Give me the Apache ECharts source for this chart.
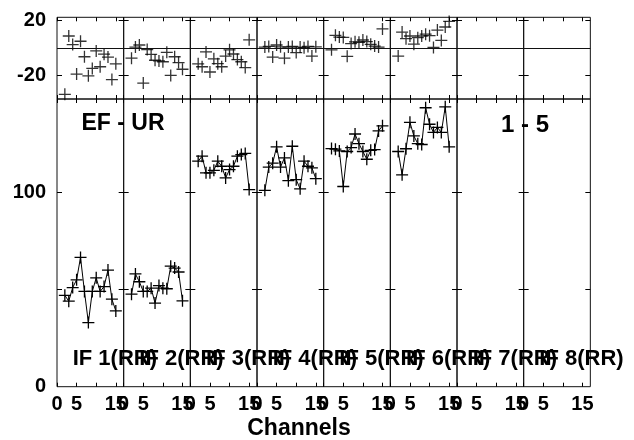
<!DOCTYPE html>
<html><head><meta charset="utf-8">
<script src="https://cdn.jsdelivr.net/npm/echarts@6/dist/echarts.min.js"></script>
<style>html,body{margin:0;padding:0;background:#fff}#c{width:634px;height:440px}</style>
</head><body><div id="c"></div>
<script>
// ---- data ----
const channels = [2, 3, 4, 5, 6, 7, 8, 9, 10, 11, 12, 13, 14, 15];
const ifLabels = ['IF 1(RR)', 'IF 2(RR)', 'IF 3(RR)', 'IF 4(RR)', 'IF 5(RR)', 'IF 6(RR)', 'IF 7(RR)', 'IF 8(RR)'];
const xTickValues = [0, 5, 10, 15];
const xLabelValues = [0, 5, 15];
const resTickValues = [-20, 20];
const resLabelValues = [-20, 20];
const ampTickValues = [50, 100];
const ampLabelValues = [0, 100];

const ampIF1 = [47, 44, 51, 55, 66.5, 49, 33, 49, 56, 49, 51.5, 60, 45, 39];
const ampIF2 = [47.6, 58, 54, 49, 49, 50.7, 43, 52, 50.7, 50.4, 62, 61, 59, 44.2];
const ampIF3 = [116, 118.6, 110, 110, 111.3, 116, 113.4, 107.4, 111.7, 113.4, 118.6, 119.4, 120, 101.4];
const ampIF4 = [101, 113, 115, 123.4, 113, 117.7, 106, 123.7, 106.5, 101.8, 116, 113.4, 112.6, 107];
const ampIF5 = [122.5, 122.2, 121.3, 103, 121, 123, 130, 125, 121, 117, 121.6, 122, 131.6, 134.2];
const ampIF6 = [121, 109, 122.4, 136, 129, 125, 124.6, 143.5, 135, 130.8, 133.4, 130.8, 144, 123.4];
const ampIF7 = [];
const ampIF8 = [];

const resIF1 = [-33.6, 8.5, 2.3, -19, 4.7, -6.5, -20.3, -14.9, -2.3, -13.7, -4.6, -6.7, -23, -11.6];
const resIF2 = [-7.5, 0.5, 2, -25.5, -1.3, -4.8, -9, -9.5, -10.1, -3.3, -20, -6.5, -10.7, -15.5];
const resIF3 = [-11.6, -13.7, -3, -17.5, -8, -11.5, -13.7, -6, -1.5, -4.5, -8.5, -10.1, -14.3, 5.7];
const resIF4 = [0.5, 1, -6.7, 2, 0.7, -7.5, 0.5, 1, -3.5, 0.5, 0, 1, -6, 0.7];
const resIF5 = [-1.5, 9, 7.7, 7.5, -6.2, 3, 4.3, 4, 5.6, 4.5, 2.5, 1.2, 0.5, 13.6];
const resIF6 = [-6, 11.3, 6.6, 8.5, 2.6, 7.3, 8.5, 9.8, 8.7, 0.2, 12.8, 5.3, 15, 19];
const resIF7 = [];
const resIF8 = [];

const ampAll = [ampIF1, ampIF2, ampIF3, ampIF4, ampIF5, ampIF6, ampIF7, ampIF8];
const resAll = [resIF1, resIF2, resIF3, resIF4, resIF5, resIF6, resIF7, resIF8];

// ---- layout ----
const FAM = '"Liberation Sans", Arial, Helvetica, sans-serif';
const L0 = 57, PW = 66.667, TOP0 = 17.3, MID = 99, BOT = 386.7;
const PLUS = 'path://M0,50L100,50M50,0L50,100';

const grids = [], xAxes = [], yAxes = [], series = [];
const tickStyle = {color: '#000', width: 1};
const lblStyle = {fontSize: 20, fontWeight: 'bold', color: '#000', fontFamily: FAM};

for (let row = 0; row < 2; row++) {
  for (let i = 0; i < 8; i++) {
    const g = grids.length;
    grids.push({
      left: L0 + i * PW, width: PW,
      top: row ? MID : TOP0, height: row ? BOT - MID : MID - TOP0,
      show: true, borderColor: '#111', borderWidth: 1, backgroundColor: 'transparent'
    });
    const yMin = row ? 0 : -37, yMax = row ? 148 : 22;
    const yTicks = row ? ampTickValues : resTickValues;
    const yLabels = row ? ampLabelValues : resLabelValues;
    ['bottom', 'top'].forEach(pos => {
      xAxes.push({
        type: 'value', gridIndex: g, position: pos, min: 0, max: 17,
        axisLine: {show: false, onZero: false},
        axisTick: {show: true, inside: true, length: 4, customValues: xTickValues, lineStyle: tickStyle},
        axisLabel: Object.assign({show: row === 1 && pos === 'bottom', customValues: xLabelValues, margin: 8}, lblStyle),
        splitLine: {show: false}
      });
    });
    ['left', 'right'].forEach(pos => {
      yAxes.push({
        type: 'value', gridIndex: g, position: pos, min: yMin, max: yMax,
        axisLine: {show: false, onZero: false},
        axisTick: {show: true, inside: true, length: 5, customValues: yTicks, lineStyle: tickStyle},
        axisLabel: Object.assign({show: i === 0 && pos === 'left', customValues: yLabels, margin: 11,
          padding: row ? 0 : [6, 0, 0, 0]}, lblStyle),
        splitLine: {show: false}
      });
    });
    const vals = row ? ampAll[i] : resAll[i];
    const s = {
      type: row ? 'line' : 'scatter',
      xAxisIndex: 2 * g, yAxisIndex: 2 * g,
      data: vals.map((v, k) => [channels[k], v]),
      symbol: PLUS, symbolSize: [12, 12],
      itemStyle: {color: '#000', borderColor: '#000', borderWidth: 1.3},
      silent: true, animation: false
    };
    if (row) {
      s.showSymbol = true;
      s.lineStyle = {color: '#000', width: 1};
    } else {
      s.markLine = {
        silent: true, symbol: 'none', animation: false,
        label: {show: false},
        lineStyle: {color: '#111', width: 1, type: 'solid'},
        data: [{yAxis: 0}]
      };
    }
    series.push(s);
  }
}

const graphics = [];
const txt = (text, x, y, size, align) => ({
  type: 'text', x: x, y: y, silent: true,
  style: {text: text, fill: '#000', font: 'bold ' + size + 'px ' + FAM,
    textAlign: align || 'center', align: align || 'center',
    textVerticalAlign: 'middle', verticalAlign: 'middle'}
});
graphics.push(txt('EF - UR', 123, 124, 23));
graphics.push(txt('1 - 5', 525, 125, 24));
ifLabels.forEach((t, i) => graphics.push(txt(t, 72.7 + i * PW, 359, 22, 'left')));
graphics.push(txt('Channels', 299, 429, 23));

const chart = echarts.init(document.getElementById('c'), null, {renderer: 'canvas'});
chart.setOption({
  animation: false,
  backgroundColor: '#fff',
  grid: grids, xAxis: xAxes, yAxis: yAxes, series: series,
  graphic: graphics
});
</script></body></html>
